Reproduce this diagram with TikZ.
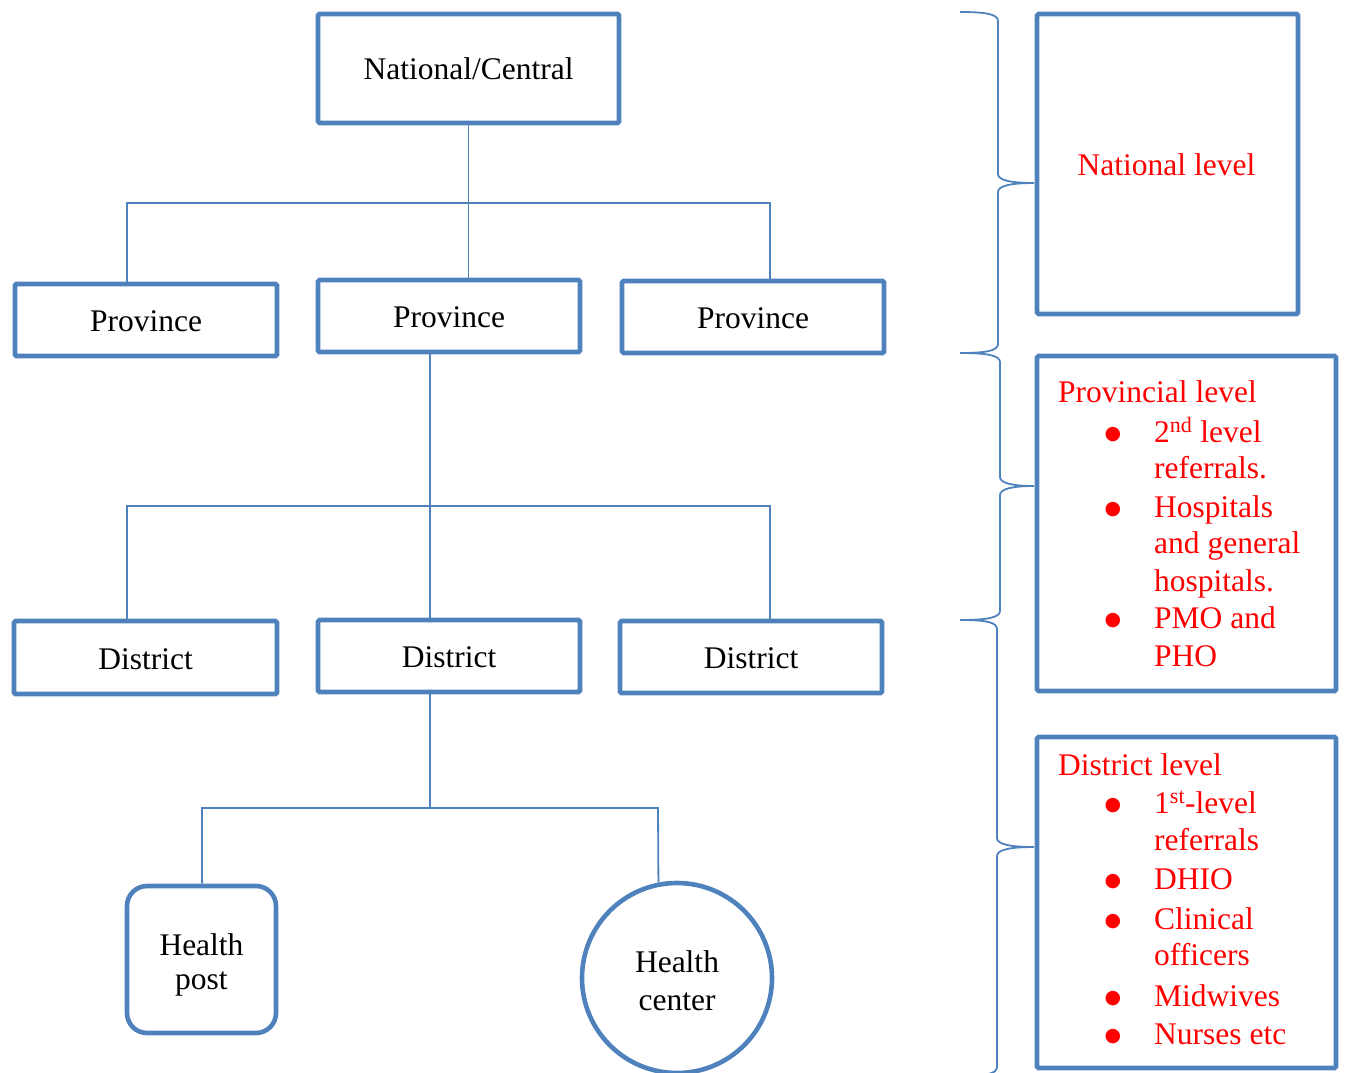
\documentclass[tikz,border=0pt]{standalone}
\usepackage{fontspec}
\setmainfont{Liberation Serif}
\newfontfamily\bulfont{DejaVu Sans}
\definecolor{obl}{HTML}{4F81BD}
\definecolor{ored}{HTML}{FF0000}
\newcommand\lvlbrace[4]{%
  \draw[brc] (960,#1) .. controls (985,#1) and (#2,#1+2) .. (#2,#1+9) -- (#2,#3-9)
    .. controls (#2,#3-3) and (#2+12,#3) .. (1034,#3)
    .. controls (#2+12,#3) and (#2,#3+3) .. (#2,#3+9) -- (#2,#4-9)
    .. controls (#2,#4-2) and (985,#4) .. (960,#4);}
\begin{document}
\begin{tikzpicture}[x=1pt,y=-1pt,
  every node/.style={font=\fontsize{31.5}{36}\selectfont, inner sep=0pt},
  box/.style={draw=obl, line width=4.6pt, rounded corners=1.5pt, fill=white, text height=23pt, text depth=0pt},
  rbox/.style={draw=obl, line width=4.6pt, rounded corners=1.5pt},
  conn/.style={draw=obl, line width=1.8pt},
  brc/.style={draw=obl, line width=1.8pt},
  rt/.style={text=ored, anchor=base west},
  bul/.style={text=ored, anchor=base, font=\bulfont\fontsize{19}{19}\selectfont, yshift=3pt},
  bt/.style={text=black, anchor=base}]
\useasboundingbox (0,0) rectangle (1347,1073);

% left hierarchy boxes
\node[box, minimum width=301pt, minimum height=109pt] (nat) at (468.5,68.5) {National/Central};
\node[box, minimum width=262pt, minimum height=72pt] (pl) at (146,320) {Province};
\node[box, minimum width=262pt, minimum height=72pt] (pm) at (449,316) {Province};
\node[box, minimum width=262pt, minimum height=72pt] (pr) at (753,317) {Province};
\node[box, minimum width=263pt, minimum height=73pt] (dl) at (145.5,657.5) {District};
\node[box, minimum width=262pt, minimum height=72pt] (dm) at (449,656) {District};
\node[box, minimum width=262pt, minimum height=72pt] (dr) at (751,657) {District};
\node[draw=obl, line width=4.6pt, rounded corners=20pt, minimum width=149pt, minimum height=147pt] (hp) at (201.5,959.5) {};
\node[draw=obl, line width=4.6pt, circle, minimum size=190pt] (hc) at (677,978) {};
\node[bt] (hp1) at (201.5,955) {Health};
\node[bt] (hp2) at (201.5,989) {post};
\node[bt] (hc1) at (677,972) {Health};
\node[bt] (hc2) at (677,1010) {center};

% connectors
\coordinate (hL1) at (127,203);
\coordinate (hR1) at (770,203);
\coordinate (v2) at (430,506);
\coordinate (hL2) at (127,506);
\coordinate (hR2) at (770,506);
\coordinate (v3) at (430,808);
\coordinate (hL3) at (202,808);
\coordinate (hR3) at (658,808);
\draw[conn] (nat.south) -- (nat.south |- pm.north);
\draw[conn] (hL1 |- pl.north) -- (hL1) -- (hR1) -- (hR1 |- pr.north);
\draw[conn] (v2 |- pm.south) -- (v2 |- dm.north);
\draw[conn] (hL2 |- dl.north) -- (hL2) -- (hR2) -- (hR2 |- dr.north);
\draw[conn] (v3 |- dm.south) -- (v3);
\draw[conn] (hL3 |- hp.north) -- (hL3) -- (hR3) -- (hc.101.5);

% braces
\lvlbrace{12}{998}{183}{353}
\lvlbrace{353}{1000}{486}{620}
\lvlbrace{620}{997}{847}{1076}

% right boxes
\node[rbox, minimum width=261pt, minimum height=300pt] (nl) at (1167.5,164) {};
\node[rbox, minimum width=299pt, minimum height=335pt] (prl) at (1186.5,523.5) {};
\node[rbox, minimum width=299pt, minimum height=331pt] (dil) at (1186.5,902.5) {};

\node[text=ored, anchor=base] (nlt) at (1166.5,175) {National level};

\node[rt] (pv0) at (1058,402) {Provincial level};
\node[bul] (pb1) at (1113,442) {●};
\node[rt] (pv1) at (1154,442) {2\textsuperscript{nd} level};
\node[rt] (pv2) at (1154,478) {referrals.};
\node[bul] (pb2) at (1113,517) {●};
\node[rt] (pv3) at (1154,517) {Hospitals};
\node[rt] (pv4) at (1154,553) {and general};
\node[rt] (pv5) at (1154,591) {hospitals.};
\node[bul] (pb3) at (1113,628) {●};
\node[rt] (pv6) at (1154,628) {PMO and};
\node[rt] (pv7) at (1154,666) {PHO};

\node[rt] (dv0) at (1058,775) {District level};
\node[bul] (db1) at (1113,813) {●};
\node[rt] (dv1) at (1154,813) {1\textsuperscript{st}-level};
\node[rt] (dv2) at (1154,850) {referrals};
\node[bul] (db2) at (1113,889) {●};
\node[rt] (dv3) at (1154,889) {DHIO};
\node[bul] (db3) at (1113,929) {●};
\node[rt] (dv4) at (1154,929) {Clinical};
\node[rt] (dv5) at (1154,965) {officers};
\node[bul] (db4) at (1113,1006) {●};
\node[rt] (dv6) at (1154,1006) {Midwives};
\node[bul] (db5) at (1113,1044) {●};
\node[rt] (dv7) at (1154,1044) {Nurses etc};
\end{tikzpicture}
\end{document}
